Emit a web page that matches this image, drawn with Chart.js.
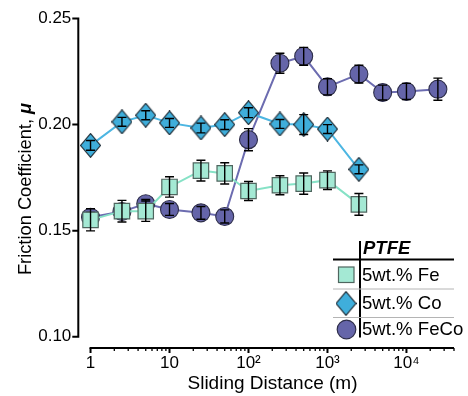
<!DOCTYPE html>
<html><head><meta charset="utf-8">
<style>html,body{margin:0;padding:0;background:#fff}#wrap{width:468px;height:396px;position:relative}</style>
</head><body>
<div id="wrap"><canvas id="c" width="468" height="396"></canvas></div>
<script src="https://cdn.jsdelivr.net/npm/chart.js@4/dist/chart.umd.min.js"></script>
<script>
const distance = [1, 2.5, 5, 10, 25, 50, 100, 250, 500, 1000, 2500];
const distanceFeCo = [1, 2.5, 5, 10, 25, 50, 100, 250, 500, 1000, 2500, 5000, 10000, 25000];
const muFe = [0.1551, 0.1592, 0.1592, 0.1706, 0.1783, 0.1770, 0.1687, 0.1714, 0.1722, 0.1738, 0.1624];
const errFe = [0.0052, 0.0051, 0.0048, 0.0048, 0.0049, 0.0050, 0.0045, 0.0045, 0.0050, 0.0044, 0.0051];
const muCo = [0.1902, 0.2013, 0.2044, 0.2008, 0.1984, 0.2000, 0.2056, 0.2003, 0.2000, 0.1979, 0.1789];
const errCo = [0.0023, 0.0021, 0.0021, 0.0021, 0.0023, 0.0023, 0.0023, 0.0021, 0.0047, 0.0021, 0.0021];
const muFeCo = [0.1563, 0.1590, 0.1627, 0.1600, 0.1584, 0.1567, 0.1929, 0.2289, 0.2322, 0.2178, 0.2238, 0.2151, 0.2156, 0.2167];
const errFeCo = [0.0023, 0.0023, 0.0020, 0.0028, 0.0030, 0.0031, 0.0052, 0.0047, 0.0042, 0.0038, 0.0042, 0.0035, 0.0038, 0.0052];
const seriesNames = ['5wt.% Fe', '5wt.% Co', '5wt.% FeCo'];
const legendTitle = 'PTFE';
const xTickValues = [1, 10, 100, 1000, 10000];
const xTickLabels = ['1', '10', '10\u00B2', '10\u00B3', '10\u2074'];
const yTickValues = [0.10, 0.15, 0.20, 0.25];
const yTickLabels = ['0.10', '0.15', '0.20', '0.25'];
const xTitle = 'Sliding Distance (m)';
const yTitleText = 'Friction Coefficient, ';
const yTitleSymbol = '\u03BC';

const FONT = "'Liberation Sans', Arial, Helvetica, sans-serif";
const X_AXIS_END = 40000;

function diamondCanvas(w, h, fill, stroke) {
  const c = document.createElement('canvas');
  c.width = w; c.height = h;
  const g = c.getContext('2d');
  g.beginPath();
  g.moveTo(w / 2, 0.6); g.lineTo(w - 0.6, h / 2); g.lineTo(w / 2, h - 0.6); g.lineTo(0.6, h / 2);
  g.closePath();
  g.fillStyle = fill; g.fill();
  g.lineWidth = 1.1; g.strokeStyle = stroke; g.stroke();
  return c;
}

const sty = {
  fe: { fill: '#A4E9D4', stroke: '#4F665F', line: '#86E2C6' },
  co: { fill: '#3FAEDB', stroke: '#1E2A33', line: '#4DB6E2' },
  feco: { fill: '#6565A9', stroke: '#2E2E4A', line: '#6C6CB0' }
};
const diamondImg = diamondCanvas(21, 25, sty.co.fill, sty.co.stroke);

function pts(xs, ys) { return xs.map((x, i) => ({ x: x, y: ys[i] })); }

const errorBars = {
  id: 'errorBars',
  afterDatasetDraw(chart, args) {
    const ds = chart.data.datasets[args.index];
    if (!ds.errors) return;
    const ctx = chart.ctx, ys = chart.scales.y;
    ctx.save();
    ctx.strokeStyle = '#000'; ctx.lineWidth = 1.4;
    args.meta.data.forEach((el, i) => {
      const v = ds.data[i].y, e = ds.errors[i];
      const t = ys.getPixelForValue(v + e), b = ys.getPixelForValue(v - e), x = el.x;
      ctx.beginPath();
      ctx.moveTo(x, t); ctx.lineTo(x, b);
      ctx.moveTo(x - 4.5, t); ctx.lineTo(x + 4.5, t);
      ctx.moveTo(x - 4.5, b); ctx.lineTo(x + 4.5, b);
      ctx.stroke();
    });
    ctx.restore();
  }
};

const axesAndText = {
  id: 'axesAndText',
  afterDraw(chart) {
    const ctx = chart.ctx, xs = chart.scales.x, ys = chart.scales.y, a = chart.chartArea;
    ctx.save();
    ctx.strokeStyle = '#000'; ctx.lineWidth = 2; ctx.lineCap = 'butt';
    // y axis
    const yx = a.left;
    ctx.beginPath();
    ctx.moveTo(yx, ys.getPixelForValue(yTickValues[yTickValues.length - 1]) - 1);
    ctx.lineTo(yx, ys.getPixelForValue(yTickValues[0]) + 1);
    yTickValues.forEach(v => { const p = ys.getPixelForValue(v); ctx.moveTo(yx - 6, p); ctx.lineTo(yx, p); });
    ctx.stroke();
    // x axis
    const xy = a.bottom;
    ctx.beginPath();
    ctx.moveTo(xs.getPixelForValue(xTickValues[0]) - 1, xy);
    ctx.lineTo(xs.getPixelForValue(X_AXIS_END), xy);
    ctx.stroke();
    ctx.beginPath();
    xTickValues.forEach(v => { const p = xs.getPixelForValue(v); ctx.moveTo(p, xy); ctx.lineTo(p, xy + 5); });
    ctx.stroke();
    ctx.lineWidth = 1.3;
    ctx.beginPath();
    for (let d = 1; d <= 10000; d *= 10) {
      for (let m = 2; m <= 9; m++) {
        const v = m * d; if (v > X_AXIS_END) break;
        const p = xs.getPixelForValue(v); ctx.moveTo(p, xy); ctx.lineTo(p, xy + 3);
      }
    }
    ctx.stroke();
    // axis titles
    ctx.fillStyle = '#000';
    ctx.font = '19px ' + FONT; ctx.textAlign = 'center'; ctx.textBaseline = 'alphabetic';
    ctx.fillText(xTitle, 272.5, 389);
    ctx.save();
    ctx.translate(31, 189); ctx.rotate(-Math.PI / 2);
    ctx.font = '18.3px ' + FONT;
    const w1 = ctx.measureText(yTitleText).width;
    ctx.font = 'italic bold 18.3px ' + FONT;
    const w2 = ctx.measureText(yTitleSymbol).width;
    ctx.textAlign = 'left';
    ctx.font = '18.3px ' + FONT;
    ctx.fillText(yTitleText, -(w1 + w2) / 2, 0);
    ctx.font = 'italic bold 18.3px ' + FONT;
    ctx.fillText(yTitleSymbol, -(w1 + w2) / 2 + w1, 0);
    ctx.restore();
    // legend table
    ctx.lineWidth = 2; ctx.strokeStyle = '#000';
    ctx.beginPath(); ctx.moveTo(360, 241); ctx.lineTo(360, 337.5); ctx.stroke();
    ctx.beginPath(); ctx.moveTo(333, 259.5); ctx.lineTo(454, 259.5); ctx.stroke();
    ctx.lineWidth = 1; ctx.strokeStyle = '#b4b4b4';
    ctx.beginPath(); ctx.moveTo(333, 289); ctx.lineTo(454, 289); ctx.moveTo(333, 317.5); ctx.lineTo(454, 317.5); ctx.stroke();
    ctx.fillStyle = '#000'; ctx.textAlign = 'left'; ctx.textBaseline = 'middle';
    ctx.font = 'italic bold 18.5px ' + FONT;
    ctx.fillText(legendTitle, 363, 249);
    ctx.font = '18.6px ' + FONT;
    const rows = [275, 303.5, 329.5];
    seriesNames.forEach((n, i) => ctx.fillText(n, 362, rows[i] + 0.5));
    // legend markers
    ctx.lineWidth = 1.2;
    ctx.fillStyle = sty.fe.fill; ctx.strokeStyle = sty.fe.stroke;
    ctx.fillRect(338.5, 267, 15.5, 15.5); ctx.strokeRect(338.5, 267, 15.5, 15.5);
    ctx.drawImage(diamondImg, 346 - 10.5, rows[1] - 12.5);
    ctx.fillStyle = sty.feco.fill; ctx.strokeStyle = sty.feco.stroke;
    ctx.beginPath(); ctx.arc(346.5, rows[2], 9.3, 0, Math.PI * 2); ctx.fill(); ctx.stroke();
    ctx.restore();
  }
};

new Chart(document.getElementById('c'), {
  type: 'line',
  data: {
    datasets: [
      { label: seriesNames[0], data: pts(distance, muFe), errors: errFe,
        borderColor: sty.fe.line, borderWidth: 2, pointStyle: 'rect', pointRadius: 10.9,
        pointBackgroundColor: sty.fe.fill, pointBorderColor: sty.fe.stroke, pointBorderWidth: 1.2, tension: 0 },
      { label: seriesNames[1], data: pts(distance, muCo), errors: errCo,
        borderColor: sty.co.line, borderWidth: 2, pointStyle: diamondImg, pointRadius: 12,
        pointBackgroundColor: sty.co.fill, pointBorderColor: sty.co.stroke, tension: 0 },
      { label: seriesNames[2], data: pts(distanceFeCo, muFeCo), errors: errFeCo,
        borderColor: sty.feco.line, borderWidth: 2, pointStyle: 'circle', pointRadius: 9,
        pointBackgroundColor: sty.feco.fill, pointBorderColor: sty.feco.stroke, pointBorderWidth: 1.1, tension: 0 }
    ]
  },
  options: {
    responsive: false, animation: false, devicePixelRatio: 1,
    layout: { padding: { top: 18.5, right: 5, left: 0, bottom: 0 } },
    plugins: { legend: { display: false }, tooltip: { enabled: false } },
    scales: {
      x: {
        type: 'logarithmic', min: 0.7, max: X_AXIS_END,
        grid: { display: false, drawTicks: false }, border: { display: false },
        afterBuildTicks: s => { s.ticks = xTickValues.map(v => ({ value: v })); },
        afterFit: s => { s.height = 48; },
        ticks: { autoSkip: false, maxRotation: 0, padding: 5, color: '#000', font: { family: FONT, size: 17 },
          callback: (v, i) => xTickLabels[i] }
      },
      y: {
        type: 'linear', min: 0.0947, max: 0.25,
        grid: { display: false, drawTicks: false }, border: { display: false },
        afterBuildTicks: s => { s.ticks = yTickValues.map(v => ({ value: v })); },
        afterFit: s => { s.width = 78.3; },
        ticks: { autoSkip: false, padding: 7, color: '#000', font: { family: FONT, size: 17 },
          callback: (v, i) => yTickLabels[i] }
      }
    }
  },
  plugins: [errorBars, axesAndText]
});
</script>
</body></html>
